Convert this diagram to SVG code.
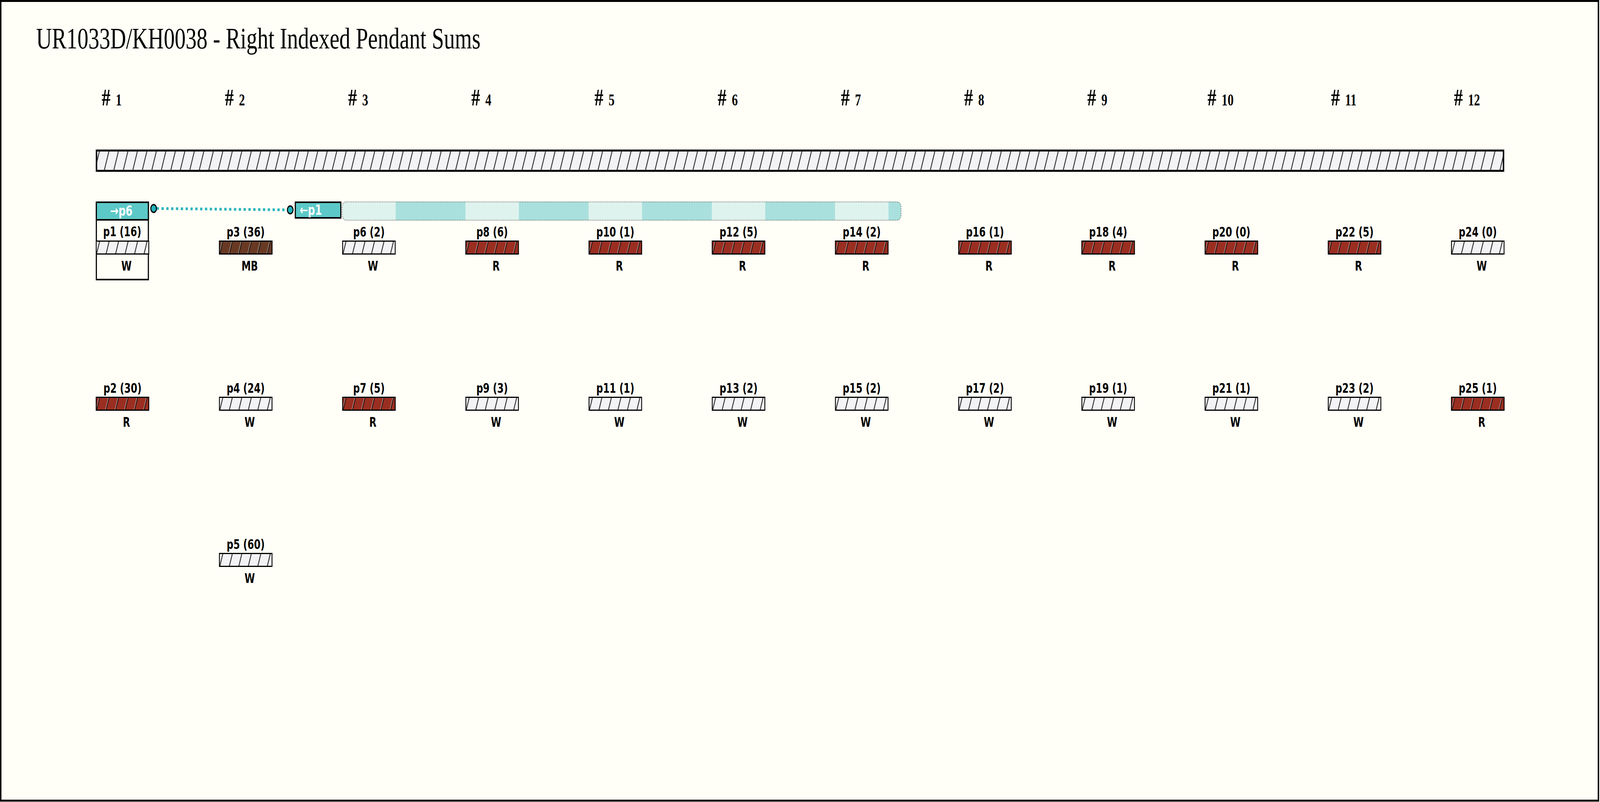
<svg xmlns="http://www.w3.org/2000/svg" width="5629" height="2054" viewBox="0 0 5629 2054" preserveAspectRatio="none" style="width:100vw;height:100vh;display:block">
<defs>
<style>
.lbl{font-family:'DejaVu Sans',Verdana,sans-serif;font-weight:bold;font-size:33px;text-anchor:middle;fill:#000}
.hdr{font-family:'DejaVu Sans',Verdana,sans-serif;font-weight:bold;font-size:35px;fill:#fff}
.hd{font-family:'Liberation Serif','Times New Roman',serif;font-weight:bold;font-size:62px;text-anchor:middle;fill:#000}
.dg{font-size:42px}
.W{fill:#f3f3f5}
.R{fill:#9a2e21}
.MB{fill:#693a23}
.ht{fill:url(#h)}
.bd{fill:none;stroke:#000;stroke-width:3}
</style>
<pattern id="h" patternUnits="userSpaceOnUse" width="33.4" height="60" patternTransform="skewX(-18.4)">
<line x1="14" y1="0" x2="14" y2="60" stroke="#000" stroke-width="3"/>
<line x1="12" y1="0" x2="12" y2="60" stroke="#fff" stroke-width="1.2"/>
</pattern>
<clipPath id="spanclip"><rect x="1204" y="517" width="1966" height="47" rx="14"/></clipPath>
</defs>
<rect x="0" y="0" width="5629" height="2054" fill="#fffff7"/>
<rect x="2.5" y="2.5" width="5621" height="2048" fill="#fffff7" stroke="#000" stroke-width="5"/>
<text x="127" y="124" font-family="'Liberation Serif','Times New Roman',serif" font-size="77" fill="#000">UR1033D/KH0038 - Right Indexed Pendant Sums</text>

<g id="headers">
<text class="hd" x="393" y="270">#<tspan class="dg" dx="8"> 1</tspan></text>
<text class="hd" x="826.5" y="270">#<tspan class="dg" dx="8"> 2</tspan></text>
<text class="hd" x="1260" y="270">#<tspan class="dg" dx="8"> 3</tspan></text>
<text class="hd" x="1693.4" y="270">#<tspan class="dg" dx="8"> 4</tspan></text>
<text class="hd" x="2126.8" y="270">#<tspan class="dg" dx="8"> 5</tspan></text>
<text class="hd" x="2560.3" y="270">#<tspan class="dg" dx="8"> 6</tspan></text>
<text class="hd" x="2993.7" y="270">#<tspan class="dg" dx="8"> 7</tspan></text>
<text class="hd" x="3427.2" y="270">#<tspan class="dg" dx="8"> 8</tspan></text>
<text class="hd" x="3860.6" y="270">#<tspan class="dg" dx="8"> 9</tspan></text>
<text class="hd" x="4294.1" y="270">#<tspan class="dg" dx="8"> 10</tspan></text>
<text class="hd" x="4727.5" y="270">#<tspan class="dg" dx="8"> 11</tspan></text>
<text class="hd" x="5161" y="270">#<tspan class="dg" dx="8"> 12</tspan></text>
</g>

<g id="maincord" transform="translate(337,383)">
<rect class="W" width="4955" height="57"/>
<rect class="ht" width="4955" height="57"/>
<rect x="2.5" y="2.5" width="4950" height="52" fill="none" stroke="#000" stroke-width="5"/>
</g>

<g id="p6span">
<g clip-path="url(#spanclip)">
<rect x="1204" y="517" width="1966" height="47" fill="#dff3ee"/>
<rect x="1392" y="517" width="245.4" height="47" fill="#a9e0dd"/>
<rect x="1825.4" y="517" width="245.4" height="47" fill="#a9e0dd"/>
<rect x="2258.8" y="517" width="245.4" height="47" fill="#a9e0dd"/>
<rect x="2692.3" y="517" width="245.4" height="47" fill="#a9e0dd"/>
<rect x="3125.7" y="517" width="50" height="47" fill="#a9e0dd"/>
</g>
<rect x="1204" y="517" width="1966" height="47" rx="14" fill="none" stroke="#333" stroke-opacity="0.55" stroke-width="2.5" stroke-dasharray="3 3"/>
</g>

<g id="p6head">
<rect x="1039" y="518" width="160" height="40" fill="#5cc8c8" stroke="#000" stroke-width="4"/>
<text class="hdr" x="1054" y="550">←p1</text>
</g>

<g id="p1">
<rect x="339" y="518" width="183" height="198" fill="#fffff7" stroke="#000" stroke-width="4"/>
<rect x="339" y="518" width="183" height="45" fill="#5cc8c8" stroke="#000" stroke-width="4"/>
<text class="hdr" x="427" y="552" text-anchor="middle">→p6</text>
<text class="lbl" x="430" y="605">p1 (16)</text>
<g transform="translate(337,616)"><rect class="W" width="188" height="36"/><rect class="ht" width="188" height="36"/><rect class="bd" x="1.5" y="1.5" width="185" height="33"/></g>
<text class="lbl" x="445" y="693">W</text>
</g>

<g id="connectors">
<line x1="551" y1="534" x2="1011" y2="537.5" stroke="#2ab4bc" stroke-width="7" stroke-dasharray="8 9"/>
<circle cx="540.5" cy="534" r="10" fill="#22b2ba" stroke="#000" stroke-width="3.5"/>
<circle cx="1021" cy="537.5" r="10" fill="#22b2ba" stroke="#000" stroke-width="3.5"/>
</g>

<g id="p3" transform="translate(770.5,616)"><rect class="MB" width="188" height="36"/><rect class="ht" width="188" height="36"/><rect class="bd" x="1.5" y="1.5" width="185" height="33"/><text class="lbl" x="94" y="-10">p3 (36)</text><text class="lbl" x="108" y="77">MB</text></g>
<g id="p6" transform="translate(1203.9,616)"><rect class="W" width="188" height="36"/><rect class="ht" width="188" height="36"/><rect class="bd" x="1.5" y="1.5" width="185" height="33"/><text class="lbl" x="94" y="-10">p6 (2)</text><text class="lbl" x="108" y="77">W</text></g>
<g id="p8" transform="translate(1637.4,616)"><rect class="R" width="188" height="36"/><rect class="ht" width="188" height="36"/><rect class="bd" x="1.5" y="1.5" width="185" height="33"/><text class="lbl" x="94" y="-10">p8 (6)</text><text class="lbl" x="108" y="77">R</text></g>
<g id="p10" transform="translate(2070.8,616)"><rect class="R" width="188" height="36"/><rect class="ht" width="188" height="36"/><rect class="bd" x="1.5" y="1.5" width="185" height="33"/><text class="lbl" x="94" y="-10">p10 (1)</text><text class="lbl" x="108" y="77">R</text></g>
<g id="p12" transform="translate(2504.3,616)"><rect class="R" width="188" height="36"/><rect class="ht" width="188" height="36"/><rect class="bd" x="1.5" y="1.5" width="185" height="33"/><text class="lbl" x="94" y="-10">p12 (5)</text><text class="lbl" x="108" y="77">R</text></g>
<g id="p14" transform="translate(2937.7,616)"><rect class="R" width="188" height="36"/><rect class="ht" width="188" height="36"/><rect class="bd" x="1.5" y="1.5" width="185" height="33"/><text class="lbl" x="94" y="-10">p14 (2)</text><text class="lbl" x="108" y="77">R</text></g>
<g id="p16" transform="translate(3371.2,616)"><rect class="R" width="188" height="36"/><rect class="ht" width="188" height="36"/><rect class="bd" x="1.5" y="1.5" width="185" height="33"/><text class="lbl" x="94" y="-10">p16 (1)</text><text class="lbl" x="108" y="77">R</text></g>
<g id="p18" transform="translate(3804.6,616)"><rect class="R" width="188" height="36"/><rect class="ht" width="188" height="36"/><rect class="bd" x="1.5" y="1.5" width="185" height="33"/><text class="lbl" x="94" y="-10">p18 (4)</text><text class="lbl" x="108" y="77">R</text></g>
<g id="p20" transform="translate(4238.1,616)"><rect class="R" width="188" height="36"/><rect class="ht" width="188" height="36"/><rect class="bd" x="1.5" y="1.5" width="185" height="33"/><text class="lbl" x="94" y="-10">p20 (0)</text><text class="lbl" x="108" y="77">R</text></g>
<g id="p22" transform="translate(4671.5,616)"><rect class="R" width="188" height="36"/><rect class="ht" width="188" height="36"/><rect class="bd" x="1.5" y="1.5" width="185" height="33"/><text class="lbl" x="94" y="-10">p22 (5)</text><text class="lbl" x="108" y="77">R</text></g>
<g id="p24" transform="translate(5105,616)"><rect class="W" width="188" height="36"/><rect class="ht" width="188" height="36"/><rect class="bd" x="1.5" y="1.5" width="185" height="33"/><text class="lbl" x="94" y="-10">p24 (0)</text><text class="lbl" x="108" y="77">W</text></g>

<g id="p2" transform="translate(337,1016)"><rect class="R" width="188" height="36"/><rect class="ht" width="188" height="36"/><rect class="bd" x="1.5" y="1.5" width="185" height="33"/><text class="lbl" x="94" y="-10">p2 (30)</text><text class="lbl" x="108" y="77">R</text></g>
<g id="p4" transform="translate(770.5,1016)"><rect class="W" width="188" height="36"/><rect class="ht" width="188" height="36"/><rect class="bd" x="1.5" y="1.5" width="185" height="33"/><text class="lbl" x="94" y="-10">p4 (24)</text><text class="lbl" x="108" y="77">W</text></g>
<g id="p7" transform="translate(1203.9,1016)"><rect class="R" width="188" height="36"/><rect class="ht" width="188" height="36"/><rect class="bd" x="1.5" y="1.5" width="185" height="33"/><text class="lbl" x="94" y="-10">p7 (5)</text><text class="lbl" x="108" y="77">R</text></g>
<g id="p9" transform="translate(1637.4,1016)"><rect class="W" width="188" height="36"/><rect class="ht" width="188" height="36"/><rect class="bd" x="1.5" y="1.5" width="185" height="33"/><text class="lbl" x="94" y="-10">p9 (3)</text><text class="lbl" x="108" y="77">W</text></g>
<g id="p11" transform="translate(2070.8,1016)"><rect class="W" width="188" height="36"/><rect class="ht" width="188" height="36"/><rect class="bd" x="1.5" y="1.5" width="185" height="33"/><text class="lbl" x="94" y="-10">p11 (1)</text><text class="lbl" x="108" y="77">W</text></g>
<g id="p13" transform="translate(2504.3,1016)"><rect class="W" width="188" height="36"/><rect class="ht" width="188" height="36"/><rect class="bd" x="1.5" y="1.5" width="185" height="33"/><text class="lbl" x="94" y="-10">p13 (2)</text><text class="lbl" x="108" y="77">W</text></g>
<g id="p15" transform="translate(2937.7,1016)"><rect class="W" width="188" height="36"/><rect class="ht" width="188" height="36"/><rect class="bd" x="1.5" y="1.5" width="185" height="33"/><text class="lbl" x="94" y="-10">p15 (2)</text><text class="lbl" x="108" y="77">W</text></g>
<g id="p17" transform="translate(3371.2,1016)"><rect class="W" width="188" height="36"/><rect class="ht" width="188" height="36"/><rect class="bd" x="1.5" y="1.5" width="185" height="33"/><text class="lbl" x="94" y="-10">p17 (2)</text><text class="lbl" x="108" y="77">W</text></g>
<g id="p19" transform="translate(3804.6,1016)"><rect class="W" width="188" height="36"/><rect class="ht" width="188" height="36"/><rect class="bd" x="1.5" y="1.5" width="185" height="33"/><text class="lbl" x="94" y="-10">p19 (1)</text><text class="lbl" x="108" y="77">W</text></g>
<g id="p21" transform="translate(4238.1,1016)"><rect class="W" width="188" height="36"/><rect class="ht" width="188" height="36"/><rect class="bd" x="1.5" y="1.5" width="185" height="33"/><text class="lbl" x="94" y="-10">p21 (1)</text><text class="lbl" x="108" y="77">W</text></g>
<g id="p23" transform="translate(4671.5,1016)"><rect class="W" width="188" height="36"/><rect class="ht" width="188" height="36"/><rect class="bd" x="1.5" y="1.5" width="185" height="33"/><text class="lbl" x="94" y="-10">p23 (2)</text><text class="lbl" x="108" y="77">W</text></g>
<g id="p25" transform="translate(5105,1016)"><rect class="R" width="188" height="36"/><rect class="ht" width="188" height="36"/><rect class="bd" x="1.5" y="1.5" width="185" height="33"/><text class="lbl" x="94" y="-10">p25 (1)</text><text class="lbl" x="108" y="77">R</text></g>

<g id="p5" transform="translate(770.5,1416)"><rect class="W" width="188" height="36"/><rect class="ht" width="188" height="36"/><rect class="bd" x="1.5" y="1.5" width="185" height="33"/><text class="lbl" x="94" y="-10">p5 (60)</text><text class="lbl" x="108" y="77">W</text></g>
</svg>
